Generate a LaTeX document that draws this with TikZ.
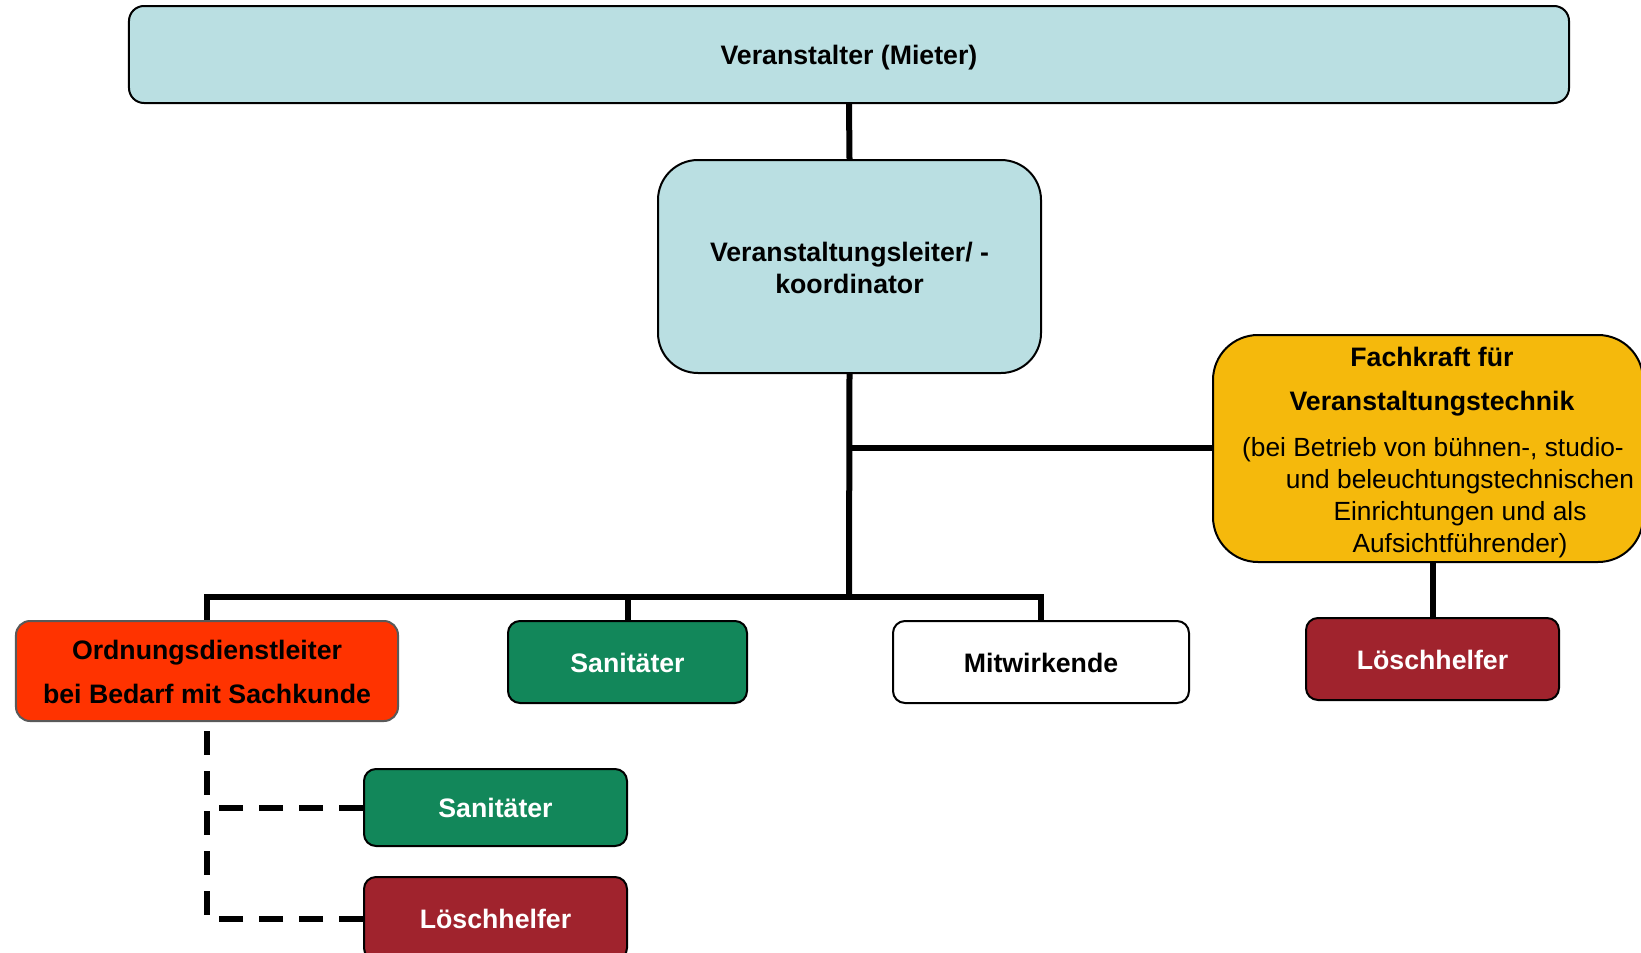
\documentclass[tikz,border=0pt]{standalone}
\usepackage{fontspec}
\setmainfont{Liberation Sans}
\definecolor{lblue}{HTML}{BADFE2}
\definecolor{gold}{HTML}{F5B90C}
\definecolor{redor}{HTML}{FF3300}
\definecolor{dgreen}{HTML}{12875A}
\definecolor{dred}{HTML}{A0232D}
\tikzset{
  box/.style={draw=black, line width=2bp, inner sep=0pt, align=center,
    text height=20bp, text depth=0bp,
    font=\fontsize{26.8}{32}\selectfont\bfseries},
  conn/.style={line width=6bp},
  dconn/.style={line width=6bp, dash pattern=on 24bp off 16bp},
}
\begin{document}
\begin{tikzpicture}[x=1bp, y=-1bp]
\useasboundingbox (0,0) rectangle (1641,952);
\clip (0,0) rectangle (1641,952);
% connectors
\coordinate (j1) at (849,448);
\coordinate (j2) at (849,597);
\coordinate (bl) at (207,597);
\coordinate (br) at (1041,597);
\coordinate (d1) at (207,807.5);
\coordinate (d2) at (207,918.5);
% boxes
\node[box, fill=lblue, rounded corners=15bp, minimum width=1440bp, minimum height=97bp] (top) at (849,54.5) {Veranstalter (Mieter)};
\node[box, fill=lblue, rounded corners=40bp, minimum width=383bp, minimum height=213bp, text height=54bp] (mid) at (849.5,266.5) {Veranstaltungsleiter/ -\\koordinator};
\node[box, fill=gold, rounded corners=45bp, minimum width=430bp, minimum height=227bp] (fach) at (1428,448.5) {};
\node[font=\fontsize{26.8}{44}\selectfont\bfseries, align=center, inner sep=0pt] (fachT) at (1432,382) {Fachkraft für\\Veranstaltungstechnik};
\node[font=\fontsize{26.4}{32}\selectfont, align=center, inner sep=0pt] (fachB) at (1460,497.5) {(bei Betrieb von bühnen-, studio-\hspace*{54bp}\\und beleuchtungstechnischen\\Einrichtungen und als\\Aufsichtführender)};
\node[box, fill=dred, text=white, rounded corners=12bp, minimum width=253bp, minimum height=82bp] (lh1) at (1432.5,659) {Löschhelfer};
\node[box, fill=dgreen, text=white, rounded corners=12bp, minimum width=239bp, minimum height=82bp] (san1) at (627.5,662) {Sanitäter};
\node[box, fill=white, rounded corners=12bp, minimum width=296bp, minimum height=82bp] (mitw) at (1041,662) {Mitwirkende};
\node[box, draw=black!65, fill=redor, rounded corners=14bp, minimum width=382bp, minimum height=100bp, text height=64bp, font=\fontsize{26.8}{44}\selectfont\bfseries] (ord) at (207,671) {Ordnungsdienstleiter\\bei Bedarf mit Sachkunde};
\node[box, fill=dgreen, text=white, rounded corners=12bp, minimum width=263bp, minimum height=77bp] (san2) at (495.5,807.5) {Sanitäter};
\node[box, fill=dred, text=white, rounded corners=12bp, minimum width=263bp, minimum height=83bp] (lh2) at (495.5,918.5) {Löschhelfer};
\draw[conn] (top.south) -- (mid.north);
\draw[conn] (mid.south) -- (j2);
\draw[conn] (j1) -- (fach.west |- j1);
\draw[conn] ([xshift=-3bp]bl) -- ([xshift=3bp]br);
\draw[conn] (bl) -- (ord.north);
\draw[conn] (san1.north |- j2) -- (san1.north);
\draw[conn] (br) -- (mitw.north);
\draw[conn] (lh1.north) -- (lh1.north |- fach.south);
\draw[dconn] (lh2.west) -- (d2) -- (ord.south);
\draw[dconn] (san2.west) -- (d1);
\end{tikzpicture}
\end{document}
